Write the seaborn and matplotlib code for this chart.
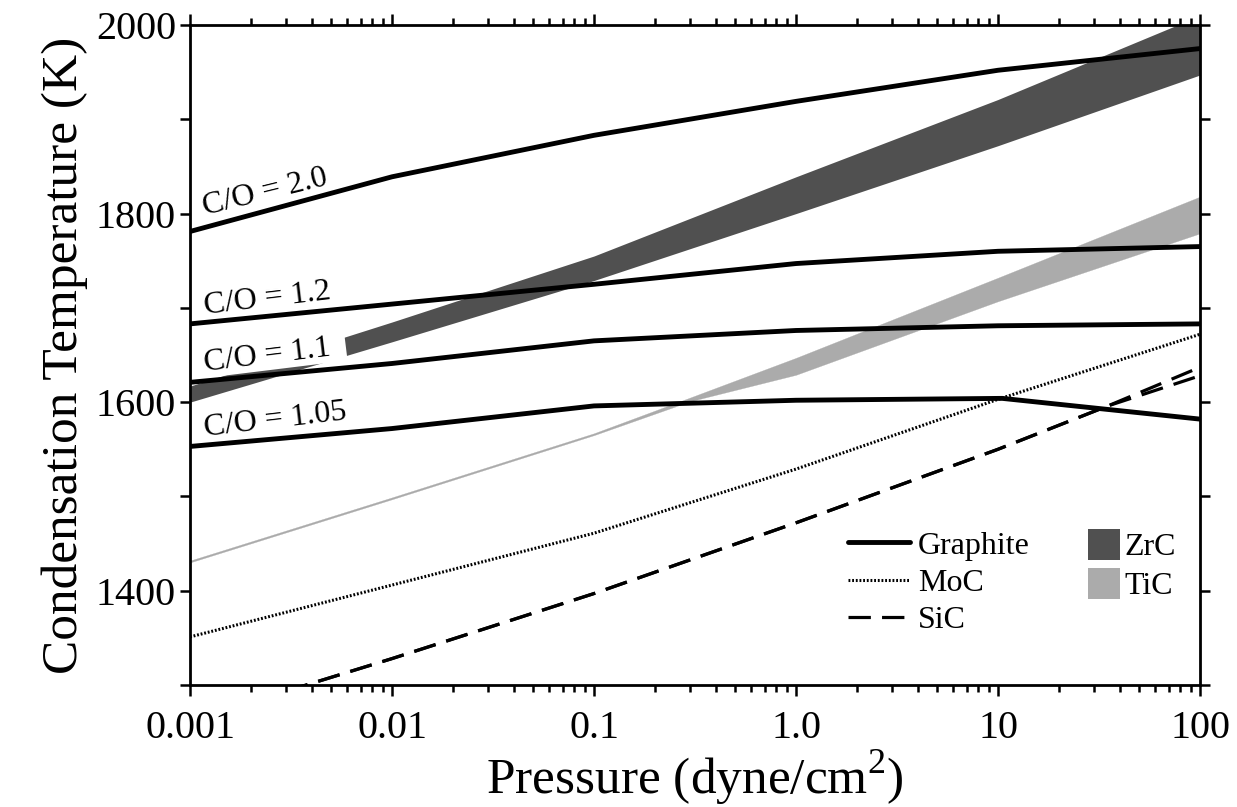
import numpy as np
import pandas as pd
import matplotlib
matplotlib.use("Agg")
import matplotlib.pyplot as plt
import seaborn as sns
from matplotlib.ticker import FixedLocator, FixedFormatter, LogLocator, NullFormatter
from matplotlib.lines import Line2D
from matplotlib.patches import Patch

# ---------------- data ----------------
P_DEC = [0.001, 0.01, 0.1, 1.0, 10.0, 100.0]

# Graphite condensation curves for different C/O ratios
GRAPHITE_CO20 = [1781, 1839, 1883, 1919, 1952, 1975]
GRAPHITE_CO12 = [1683, 1704, 1725, 1747, 1760, 1765]
GRAPHITE_CO11 = [1621, 1641, 1665, 1676, 1681, 1683]
P_CO105 = [0.001, 0.01, 0.1, 1.0, 10.5, 100.0]
GRAPHITE_CO105 = [1553, 1572, 1596, 1602, 1604, 1582]

# MoC
MOC_T = [1351, 1406, 1461, 1529, 1603, 1672]

# SiC (two branches that split near 35 dyne/cm2)
P_SIC = [0.001, 0.01, 0.1, 1.0, 10.0, 35.0, 100.0]
SIC_A = [1262, 1328, 1397, 1472, 1550, 1596, 1637]
SIC_B = [1262, 1328, 1397, 1472, 1550, 1596, 1628]

# ZrC band
ZRC_LOW = [1600, 1664, 1729, 1800, 1872, 1947]
ZRC_HIGH = [1617, 1685, 1755, 1839, 1921, 2010]

# TiC band
P_TIC = [0.001, 0.01, 0.1, 0.3, 1.0, 10.0, 100.0]
TIC_LOW = [1430, 1497, 1565, 1601, 1629, 1707, 1779]
TIC_HIGH = [1432, 1499, 1567, 1605, 1647, 1732, 1818]

CO_LABELS = ["C/O = 2.0", "C/O = 1.2", "C/O = 1.1", "C/O = 1.05"]
CO_LABEL_T = [1798, 1694, 1633, 1564]
CO_LABEL_ROT = [13.8, 6.8, 7.0, 6.7]
X_TICKS = [0.001, 0.01, 0.1, 1.0, 10.0, 100.0]
X_TICK_LABELS = ["0.001", "0.01", "0.1", "1.0", "10", "100"]
Y_MAJOR = [1400, 1600, 1800, 2000]
Y_MINOR = [1300, 1500, 1700, 1900]

# ---------------- style ----------------
sns.set_theme(style="ticks")
plt.rcParams["font.family"] = ["Liberation Serif", "DejaVu Serif"]
plt.rcParams["mathtext.fontset"] = "custom"
plt.rcParams["mathtext.rm"] = "Liberation Serif"
plt.rcParams["text.color"] = "black"
plt.rcParams["axes.labelcolor"] = "black"

ZRC_COLOR = "#505050"
TIC_COLOR = "#ababab"

fig = plt.figure(figsize=(12.37, 8.07), dpi=100)
ax = fig.add_axes([190 / 1237, 1 - 685 / 807, 1010 / 1237, 660 / 807])
ax.set_xscale("log")

# bands
ax.fill_between(P_DEC, ZRC_LOW, ZRC_HIGH, color=ZRC_COLOR, lw=0, zorder=1)
ax.fill_between(P_TIC, TIC_LOW, TIC_HIGH, color=TIC_COLOR, edgecolor=TIC_COLOR,
                lw=0.2, zorder=1)

# graphite lines
gdf = pd.concat([
    pd.DataFrame({"P": P_DEC, "T": GRAPHITE_CO20, "curve": "2.0"}),
    pd.DataFrame({"P": P_DEC, "T": GRAPHITE_CO12, "curve": "1.2"}),
    pd.DataFrame({"P": P_DEC, "T": GRAPHITE_CO11, "curve": "1.1"}),
    pd.DataFrame({"P": P_CO105, "T": GRAPHITE_CO105, "curve": "1.05"}),
])
sns.lineplot(data=gdf, x="P", y="T", units="curve", estimator=None, sort=False,
             color="black", lw=3.5, ax=ax, zorder=4, legend=False)

# MoC
mdf = pd.DataFrame({"P": P_DEC, "T": MOC_T})
sns.lineplot(data=mdf, x="P", y="T", estimator=None, sort=False, color="black",
             lw=2.2, linestyle=(0, (0.6, 0.6)), ax=ax, zorder=4, legend=False)

# SiC
sdf = pd.concat([
    pd.DataFrame({"P": P_SIC, "T": SIC_A, "b": "a"}),
    pd.DataFrame({"P": P_SIC, "T": SIC_B, "b": "b"}),
])
for _, d in sdf.groupby("b"):
    sns.lineplot(data=d, x="P", y="T", estimator=None, sort=False, color="black",
                 lw=2.3, linestyle=(0, (7, 3.5)), ax=ax, zorder=4, legend=False)

# C/O labels
for lab, t, rot in zip(CO_LABELS, CO_LABEL_T, CO_LABEL_ROT):
    kw = {}
    txt = lab
    if lab == "C/O = 1.1":
        txt = lab + "  "
        kw["bbox"] = dict(boxstyle="square,pad=0", facecolor="white", edgecolor="none")
    ax.text(0.00118, t, txt, rotation=rot, rotation_mode="anchor", ha="left",
            va="baseline", fontsize=23, zorder=2, **kw)

# axes
ax.set_xlim(0.001, 100)
ax.set_ylim(1300, 2000)
ax.xaxis.set_major_locator(FixedLocator(X_TICKS))
ax.xaxis.set_major_formatter(FixedFormatter(X_TICK_LABELS))
ax.xaxis.set_minor_locator(LogLocator(base=10, subs=np.arange(2, 10)))
ax.xaxis.set_minor_formatter(NullFormatter())
ax.yaxis.set_major_locator(FixedLocator(Y_MAJOR))
ax.yaxis.set_minor_locator(FixedLocator(Y_MINOR))
ax.yaxis.set_minor_formatter(NullFormatter())

ax.tick_params(which="both", direction="out", top=True, right=True,
               labeltop=False, labelright=False, width=1.8, colors="black",
               labelsize=29)
ax.tick_params(axis="x", which="major", length=8, pad=10)
ax.tick_params(axis="x", which="minor", length=5)
ax.tick_params(axis="y", which="both", length=7, pad=3)
for s in ax.spines.values():
    s.set_visible(True)
    s.set_linewidth(2.0)
    s.set_color("black")

ax.set_xlabel(r"Pressure (dyne/cm$^{\mathrm{2}}$)", fontsize=37, labelpad=1)
ax.set_ylabel("Condensation Temperature (K)", fontsize=37, labelpad=6)

# legends
h1 = [Line2D([], [], color="black", lw=3.5),
      Line2D([], [], color="black", lw=2.2, linestyle=(0, (0.6, 0.6))),
      Line2D([], [], color="black", lw=2.3, linestyle=(0, (7, 3.5)))]
leg1 = ax.legend(handles=h1, labels=["Graphite", "MoC", "SiC"], loc="upper left",
                 bbox_to_anchor=(0.651, 0.233), frameon=False, fontsize=23,
                 handlelength=1.95, handletextpad=0.25, labelspacing=0.25,
                 borderpad=0, borderaxespad=0)
ax.add_artist(leg1)
h2 = [Patch(facecolor=ZRC_COLOR, edgecolor="none"),
      Patch(facecolor=TIC_COLOR, edgecolor="none")]
ax.legend(handles=h2, labels=["ZrC", "TiC"], loc="upper left",
          bbox_to_anchor=(0.889, 0.237), frameon=False, fontsize=23,
          handlelength=1.0, handleheight=1.15, handletextpad=0.15,
          labelspacing=0.17, borderpad=0, borderaxespad=0)

fig.savefig("out.png", dpi=100)
